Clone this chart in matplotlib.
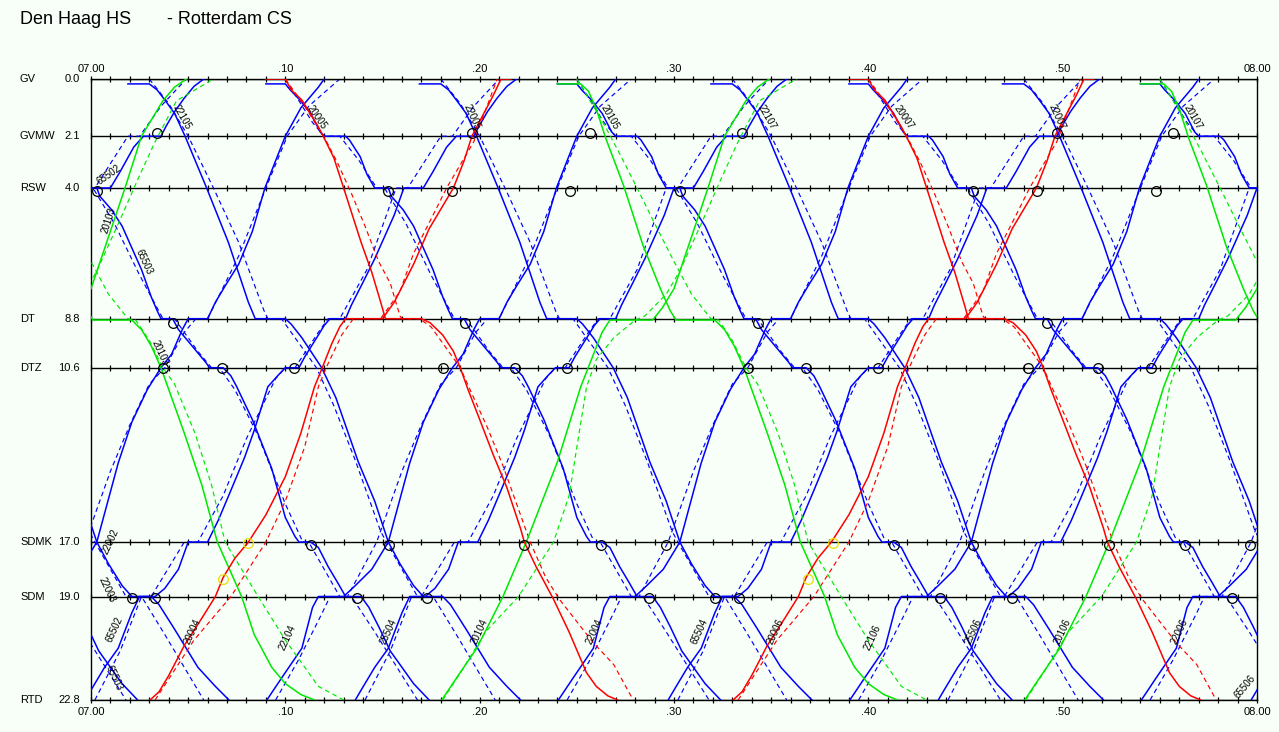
import matplotlib
matplotlib.use('Agg')
import matplotlib.pyplot as plt
from matplotlib.transforms import blended_transform_factory

plt.rcParams['font.family'] = ['Liberation Sans', 'DejaVu Sans']

# stations along the line (km from Den Haag HS)
stations = ['GV', 'GVMW', 'RSW', 'DT', 'DTZ', 'SDMK', 'SDM', 'RTD']
station_km = [0.0, 2.1, 4.0, 8.8, 10.6, 17.0, 19.0, 22.8]

time_ticks = [0, 10, 20, 30, 40, 50, 60]
time_labels = ['07.00', '.10', '.20', '.30', '.40', '.50', '08.00']

# runs: (minutes after 07.00, km)
# blue semi-fast down
bd1 = [(1.9, 0.18), (3.0, 0.18), (3.4, 0.4), (3.8, 0.77), (4.3, 1.26), (4.84, 2.1), (5.95, 4.0),
       (7.07, 6.0), (8.1, 8.2), (8.45, 8.8), (10.0, 8.8), (10.3, 9.0), (10.85, 9.5), (11.87, 10.6),
       (12.6, 11.7), (13.75, 14.05), (14.6, 15.5), (15.3, 17.0), (15.9, 17.8), (16.6, 18.6),
       (17.1, 19.0), (18.1, 19.0), (18.5, 19.3), (19.3, 20.2), (20.5, 21.6), (21.4, 22.3), (22.1, 22.8)]
bd1_dash = [(3.0, 0.0), (4.0, 0.9), (5.0, 2.1), (6.3, 4.0), (7.6, 6.0), (8.9, 8.5), (9.1, 8.8),
            (9.8, 8.8), (10.6, 9.6), (11.6, 10.6), (12.5, 12.0), (13.6, 14.0), (14.9, 16.6),
            (15.2, 17.0), (16.8, 19.0), (17.6, 19.0), (18.8, 20.4), (20.8, 22.8)]
bd1_starts = [-30, -15, 0, 15, 30, 45]

# blue stopping train down
bd2 = [(-6.0, 0.18), (-5.0, 0.18), (-4.75, 0.4), (-4.25, 0.77), (-3.7, 1.26), (-3.2, 1.95), (-3.0, 2.1),
       (-1.9, 2.1), (-1.7, 2.24), (-1.15, 2.85), (-0.8, 3.5), (-0.4, 4.0), (0.3, 4.0), (0.45, 4.3),
       (1.06, 4.8), (1.6, 5.4), (2.1, 6.2), (2.6, 7.0), (3.1, 8.0), (3.4, 8.5), (3.6, 8.8), (4.2, 8.8),
       (4.5, 9.2), (5.2, 9.8), (5.9, 10.4), (6.1, 10.6), (6.8, 10.6), (7.2, 10.9), (7.5, 11.3),
       (8.3, 12.5), (9.3, 14.3), (10.0, 16.1), (10.5, 16.8), (10.7, 17.0), (11.3, 17.0), (11.7, 17.2),
       (12.2, 17.9), (12.7, 18.5), (13.1, 19.0), (13.9, 19.0), (14.3, 19.4), (14.8, 20.1), (15.4, 21.0),
       (16.6, 22.2), (17.4, 22.8)]
bd2_dash = [(-5.0, 0.0), (-3.6, 1.6), (-3.0, 2.1), (-2.2, 2.1), (-1.2, 3.0), (-0.3, 4.0), (0.1, 4.0),
            (1.2, 5.3), (2.5, 7.2), (3.7, 8.8), (4.3, 8.8), (5.5, 10.0), (6.2, 10.6), (6.6, 10.6),
            (7.4, 11.4), (8.6, 13.1), (10.0, 15.6), (10.9, 17.0), (11.2, 17.0), (12.8, 19.0),
            (13.4, 19.0), (14.6, 20.3), (16.8, 22.8)]
bd2_starts = [-15, 0, 15, 30, 45, 60]

# blue stopping train up
bua = [(-0.3, 22.8), (0.03, 22.4), (0.7, 21.6), (1.4, 20.9), (2.1, 19.6), (2.5, 19.0), (3.3, 19.0),
       (3.8, 18.7), (4.5, 18.0), (5.0, 17.0), (6.0, 17.0), (6.55, 16.2), (7.2, 15.1), (7.9, 13.9),
       (8.4, 12.9), (9.1, 11.3), (9.6, 10.9), (10.0, 10.6), (10.7, 10.6), (11.0, 10.2), (11.7, 9.4),
       (12.0, 9.05), (12.3, 8.8), (13.1, 8.8), (13.4, 8.3), (13.9, 7.6), (14.6, 6.6), (15.1, 5.8),
       (15.6, 5.0), (15.9, 4.4), (16.1, 4.0), (17.1, 4.0), (17.6, 3.4), (18.3, 2.5), (18.8, 2.1),
       (19.7, 2.1), (19.95, 1.75), (20.4, 1.2), (20.9, 0.7), (21.4, 0.27), (21.9, 0.0)]
bua_dash = [(0.2, 22.8), (1.5, 21.0), (2.6, 19.0), (3.1, 19.0), (4.8, 17.0), (5.5, 17.0), (6.8, 15.3),
            (8.0, 13.2), (9.5, 11.0), (10.0, 10.6), (10.5, 10.6), (11.7, 9.3), (12.2, 8.8), (12.8, 8.8),
            (14.2, 7.0), (15.7, 4.0), (16.3, 4.0), (18.0, 2.1), (18.6, 2.1), (19.7, 1.0), (21.0, 0.0)]
bua_starts = [-16.1, 0, 13.9, 30, 43.9, 60]

# blue semi-fast up
bu2 = [(-5.95, 22.8), (-5.2, 22.0), (-4.15, 20.9), (-3.6, 19.4), (-3.3, 19.0), (-2.0, 19.0),
       (-1.4, 18.6), (-0.55, 18.0), (0.3, 17.0), (1.4, 14.1), (2.1, 12.6), (2.9, 11.4), (3.6, 10.6),
       (4.15, 10.1), (4.7, 9.2), (5.0, 8.8), (6.0, 8.8), (6.4, 8.2), (6.9, 7.6), (7.6, 6.8), (8.3, 5.6),
       (8.95, 4.0), (9.5, 3.0), (10.0, 2.1), (10.8, 1.06), (11.7, 0.3), (12.0, 0.0)]
bu2_dash = [(-5.5, 22.8), (-4.3, 21.3), (-3.1, 19.6), (-2.7, 19.0), (-1.8, 19.0), (-0.3, 17.0),
            (1.0, 14.4), (2.0, 12.7), (3.0, 11.2), (3.8, 10.6), (4.8, 9.3), (5.4, 8.8), (6.0, 8.8),
            (7.6, 6.5), (9.0, 4.0), (10.1, 2.1), (11.2, 1.0), (12.8, 0.0)]
bu2_starts = [-15, 0, 15, 30, 45, 60]

# red intercity
rd = [(9.0, 0.0), (10.0, 0.0), (10.3, 0.4), (10.85, 0.77), (11.7, 1.76), (11.95, 2.1), (12.5, 2.9),
      (13.0, 4.0), (13.9, 6.0), (14.45, 7.1), (14.95, 8.3), (15.15, 8.8), (17.0, 8.8), (17.45, 8.95),
      (18.1, 9.4), (18.65, 10.0), (19.0, 10.6), (19.4, 11.4), (20.0, 12.5), (20.7, 13.8), (21.4, 15.0),
      (22.1, 16.5), (22.3, 17.0), (22.9, 17.9), (23.8, 19.1), (24.6, 20.3), (25.5, 21.8), (26.0, 22.3),
      (26.6, 22.65), (27.1, 22.8)]
rd_dash = [(10.0, 0.0), (11.0, 1.0), (12.05, 2.2), (12.7, 3.1), (13.4, 4.2), (14.1, 5.4), (14.8, 6.7),
           (15.4, 7.5), (15.9, 8.7), (16.0, 8.8), (16.9, 8.8), (17.5, 9.1), (18.3, 9.9), (19.0, 10.6),
           (19.5, 11.4), (20.4, 12.8), (21.2, 14.2), (22.0, 15.8), (22.6, 17.0), (23.4, 18.3),
           (24.1, 19.1), (25.85, 20.7), (26.9, 21.5), (27.9, 22.8)]
ru = [(3.04, 22.8), (3.5, 22.5), (4.0, 21.9), (4.8, 20.8), (5.7, 19.8), (6.4, 19.0), (6.8, 18.3),
      (7.4, 17.6), (8.1, 17.0), (9.0, 16.0), (10.0, 14.6), (10.8, 13.0), (11.5, 11.3), (11.9, 10.6),
      (12.4, 9.7), (12.8, 9.1), (13.1, 8.8), (15.0, 8.8), (15.6, 8.2), (16.6, 6.8), (17.4, 5.5),
      (18.65, 4.0), (19.2, 3.0), (19.6, 2.1), (20.7, 0.6), (21.1, 0.0), (21.6, 0.0)]
ru_dash = [(3.3, 22.8), (4.3, 21.7), (5.3, 20.6), (7.2, 19.0), (9.0, 17.0), (10.0, 15.5), (11.0, 13.5),
           (11.7, 11.3), (12.1, 10.6), (12.9, 9.4), (13.5, 8.8), (14.9, 8.8), (15.9, 7.8), (16.6, 6.4),
           (17.6, 5.0), (18.3, 4.0), (19.7, 2.3), (20.9, 0.0)]

# green intercity
gd = [(24.0, 0.18), (25.2, 0.18), (25.6, 0.45), (26.0, 1.1), (26.5, 2.2), (27.4, 3.9), (28.4, 6.1),
      (29.3, 7.7), (29.8, 8.5), (30.1, 8.85), (32.1, 8.85), (32.6, 9.2), (33.1, 9.8), (33.6, 10.6),
      (34.0, 11.4), (34.8, 13.0), (35.7, 14.9), (36.5, 17.0), (37.75, 19.0), (38.4, 20.4),
      (39.3, 21.6), (40.0, 22.2), (40.8, 22.6), (41.5, 22.8)]
gd_dash = [(25.0, 0.0), (26.2, 1.4), (27.1, 2.6), (28.1, 4.0), (29.0, 5.3), (30.0, 6.7), (30.9, 7.9),
           (31.9, 8.8), (32.3, 8.85), (33.0, 9.6), (33.7, 10.6), (34.3, 11.2), (35.35, 13.0),
           (36.2, 14.9), (36.9, 17.0), (38.6, 19.0), (40.0, 20.6), (41.7, 22.3), (43.0, 22.8)]
gu = [(18.05, 22.8), (18.8, 22.0), (19.85, 20.9), (21.2, 19.0), (22.4, 17.0), (24.0, 14.06),
      (25.2, 11.3), (25.75, 10.3), (26.3, 9.3), (26.7, 8.85), (28.9, 8.85), (29.4, 8.4), (30.0, 7.7),
      (31.75, 4.0), (32.6, 2.1), (33.7, 0.8), (34.3, 0.3), (34.9, 0.0)]
gu_dash = [(18.1, 22.8), (19.1, 21.7), (20.3, 20.3), (22.0, 19.0), (23.8, 17.0), (24.6, 15.3),
           (25.5, 11.3), (26.0, 10.3), (26.9, 9.5), (28.0, 8.85), (28.5, 8.7), (29.6, 7.9),
           (30.3, 7.05), (31.6, 5.0), (32.4, 3.7), (33.3, 2.3), (34.4, 0.8), (36.3, 0.0)]
ic_starts = [-30, 0, 30]

# connection circles (minute, km)
circles_t = [3.4, 19.6, 25.7, 33.5, 49.7, 55.7,
             0.3, 15.3, 18.6, 24.65, 30.3, 45.4, 48.7, 54.8,
             4.2, 19.25, 34.3, 49.2,
             3.7, 6.75, 10.45, 18.1, 21.8, 24.5, 33.8, 36.8, 40.5, 48.2, 51.8, 54.55,
             11.3, 15.35, 22.3, 26.25, 29.6, 41.3, 45.4, 52.4, 56.3, 59.65,
             2.1, 3.3, 13.7, 17.3, 28.7, 32.1, 33.35, 43.7, 47.4, 58.7]
circles_km = [2.0] * 6 + [4.1] * 8 + [8.95] * 4 + [10.6] * 12 + [17.1] * 10 + [19.05] * 10
yellow_t = [8.1, 6.8, 38.2, 36.9]
yellow_km = [17.05, 18.35, 17.05, 18.35]

# train numbers (minute, km, text, angle)
train_labels = [(0.9, 3.5, '65502', 35), (0.9, 5.2, '20103', 72), (2.7, 6.7, '65503', -65),
                (4.7, 1.4, '22105', -60), (11.6, 1.4, '20005', -55), (19.6, 1.4, '22005', -65),
                (26.7, 1.4, '20105', -60), (34.8, 1.4, '22107', -60), (41.8, 1.4, '20007', -55),
                (49.7, 1.4, '22007', -65), (56.7, 1.4, '20107', -60), (3.55, 10.05, '20103', -65),
                (1.0, 17.0, '22002', 65), (0.8, 18.75, '22003', -65), (1.2, 20.2, '65502', 65),
                (1.2, 22.0, '65503', -65), (5.2, 20.3, '20004', 65), (10.1, 20.5, '22104', 65),
                (15.3, 20.3, '25504', 65), (20.0, 20.3, '20104', 65), (25.9, 20.3, '22004', 65),
                (31.3, 20.3, '65504', 65), (35.2, 20.3, '20006', 65), (40.2, 20.5, '22106', 65),
                (45.4, 20.3, '25506', 65), (50.0, 20.3, '20106', 65), (56.0, 20.3, '22006', 65),
                (59.4, 22.3, '65506', 50)]

BLUE = '#0000ff'
RED = '#ff0000'
GREEN = '#00e800'
DASH = (0, (4, 3))


def draw_run(ax, pts, starts, color, dashed=False, z=3):
    t = [p[0] for p in pts]
    km = [p[1] for p in pts]
    for s in starts:
        ax.plot([x + s for x in t], km, color=color, lw=0.85 if dashed else 1.1,
                ls=DASH if dashed else '-', zorder=z)


fig = plt.figure(figsize=(12.79, 7.32), dpi=100)
fig.patch.set_facecolor('#f8fff8')
ax = fig.add_axes([91 / 1279, 1 - 700 / 732, 1166 / 1279, 621 / 732])
ax.set_facecolor('#f8fff8')
ax.set_xlim(0, 60)
ax.set_ylim(22.8, 0)
ax.set_xticks([])
ax.set_yticks([])
for sp in ax.spines.values():
    sp.set_color('black')
    sp.set_linewidth(1.0)

minutes = list(range(61))
for km in station_km:
    ax.axhline(km, color='black', lw=1.0, zorder=1)
    ax.plot(minutes, [km] * len(minutes), ls='none', marker='|', ms=5, mew=0.9,
            color='black', zorder=1, clip_on=False)

# blue first, intercity on top
draw_run(ax, bd1_dash, bd1_starts, BLUE, True, 2)
draw_run(ax, bd2_dash, bd2_starts, BLUE, True, 2)
draw_run(ax, bua_dash, bua_starts, BLUE, True, 2)
draw_run(ax, bu2_dash, bu2_starts, BLUE, True, 2)
draw_run(ax, bd1, bd1_starts, BLUE)
draw_run(ax, bd2, bd2_starts, BLUE)
draw_run(ax, bua, bua_starts, BLUE)
draw_run(ax, bu2, bu2_starts, BLUE)
draw_run(ax, gd_dash, ic_starts, GREEN, True, 4)
draw_run(ax, gu_dash, ic_starts, GREEN, True, 4)
draw_run(ax, rd_dash, ic_starts, RED, True, 4)
draw_run(ax, ru_dash, ic_starts, RED, True, 4)
draw_run(ax, gd, ic_starts, GREEN, z=5)
draw_run(ax, gu, ic_starts, GREEN, z=5)
draw_run(ax, rd, ic_starts, RED, z=5)
draw_run(ax, ru, ic_starts, RED, z=5)

ax.plot(circles_t, circles_km, ls='none', marker='o', ms=7, mfc='none', mec='black',
        mew=0.9, zorder=6)
ax.plot(yellow_t, yellow_km, ls='none', marker='o', ms=7, mfc='none', mec='#e8e000',
        mew=0.9, zorder=6)

for t, km, s, ang in train_labels:
    ax.text(t, km, s, fontsize=7, rotation=ang, ha='center', va='center', zorder=7,
            rotation_mode='anchor')

# station names and km on the left
tr_left = blended_transform_factory(fig.transFigure, ax.transData)
for name, km in zip(stations, station_km):
    ax.text(20 / 1279, km, name, transform=tr_left, fontsize=8, ha='left', va='center')
    ax.text(80 / 1279, km, f'{km:.1f}', transform=tr_left, fontsize=8, ha='right', va='center')

# time labels above and below
tr_time = blended_transform_factory(ax.transData, fig.transFigure)
for t, lab in zip(time_ticks, time_labels):
    for ypx in (69, 712):
        ax.text(t, 1 - ypx / 732, lab, transform=tr_time, fontsize=8, ha='center', va='center')

fig.text(20 / 1279, 1 - 20 / 732, 'Den Haag HS', fontsize=13, ha='left', va='center')
fig.text(167 / 1279, 1 - 20 / 732, '- Rotterdam CS', fontsize=13, ha='left', va='center')

fig.savefig('out.png', dpi=100, facecolor=fig.get_facecolor())
